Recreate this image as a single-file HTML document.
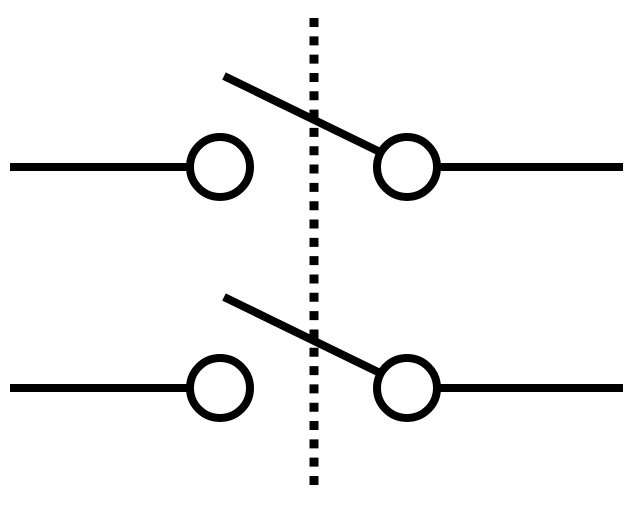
<!DOCTYPE html>
<html><head><style>html,body{margin:0;padding:0;background:#fff;}</style></head>
<body>
<svg width="634" height="512" viewBox="0 0 634 512" xmlns="http://www.w3.org/2000/svg">
<g stroke="#000" stroke-width="8" fill="none">
<line x1="10" y1="167" x2="187" y2="167"/>
<line x1="440" y1="167" x2="623" y2="167"/>
<circle cx="220" cy="167" r="30"/>
<circle cx="407" cy="167" r="30"/>
<line x1="224" y1="76" x2="380" y2="152"/>
<line x1="10" y1="388" x2="187" y2="388"/>
<line x1="440" y1="388" x2="623" y2="388"/>
<circle cx="220" cy="388" r="30"/>
<circle cx="407" cy="388" r="30"/>
<line x1="224" y1="297" x2="380" y2="373"/>
<line x1="314" y1="18" x2="314" y2="486" stroke-width="9" stroke-dasharray="9 9.32"/>
</g>
</svg>
</body></html>
